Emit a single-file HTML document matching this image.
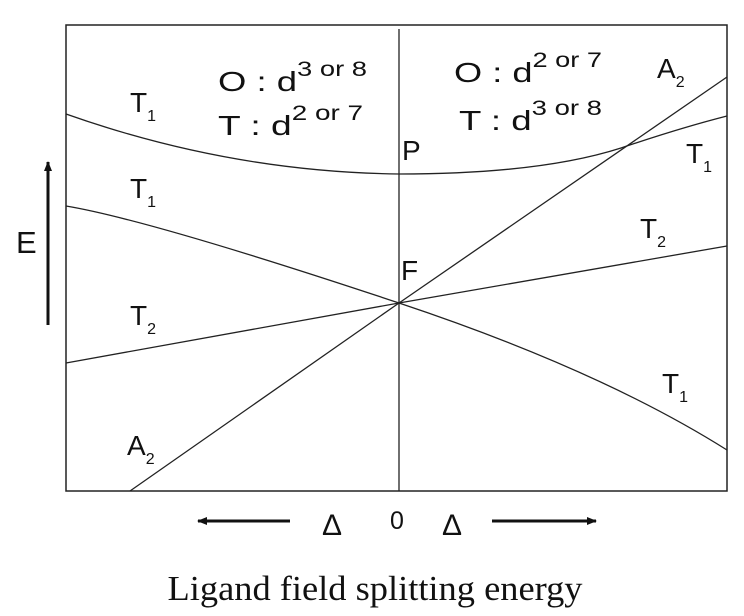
<!DOCTYPE html>
<html><head><meta charset="utf-8"><style>
html,body{margin:0;padding:0;background:#fff;}
svg{display:block;}
text{font-family:"Liberation Sans",Arial,sans-serif;fill:#111;}
</style></head><body>
<svg width="744" height="616" viewBox="0 0 744 616" xmlns="http://www.w3.org/2000/svg">
<defs>
<marker id="ah" markerWidth="10" markerHeight="8" refX="9" refY="4" orient="auto" markerUnits="userSpaceOnUse">
<path d="M0,0 L10,4 L0,8 Z" fill="#111"/></marker>
</defs>
<g stroke="#222" fill="none" stroke-width="1.3">
<rect x="66" y="25" width="661" height="466" stroke-width="1.5"/>
<line x1="399" y1="29" x2="399" y2="491"/>
<path d="M66,114 Q230,172 399,174 Q540,174 621,148 Q680,128 727,116"/>
<path d="M66,206 Q150,220 399,303"/>
<line x1="399" y1="303" x2="727" y2="77"/>
<line x1="399" y1="303" x2="727" y2="246"/>
<line x1="66" y1="363" x2="399" y2="303"/>
<line x1="130" y1="491" x2="399" y2="303"/>
<path d="M399,303 Q600,370 727,450"/>
</g>
<line x1="48" y1="325" x2="48" y2="162" stroke="#111" stroke-width="3" marker-end="url(#ah)"/>
<line x1="290" y1="521" x2="198" y2="521" stroke="#111" stroke-width="3" marker-end="url(#ah)"/>
<line x1="492" y1="521" x2="596" y2="521" stroke="#111" stroke-width="3" marker-end="url(#ah)"/>
<g font-size="28">
<text x="130" y="112">T<tspan font-size="16" dy="9">1</tspan></text>
<text x="218" y="91" textLength="149" lengthAdjust="spacingAndGlyphs">O : d<tspan font-size="21" dy="-15">3 or 8</tspan></text>
<text x="218" y="135" textLength="145" lengthAdjust="spacingAndGlyphs">T : d<tspan font-size="21" dy="-15">2 or 7</tspan></text>
<text x="454" y="82" textLength="148" lengthAdjust="spacingAndGlyphs">O : d<tspan font-size="21" dy="-15">2 or 7</tspan></text>
<text x="459" y="130" textLength="143" lengthAdjust="spacingAndGlyphs">T : d<tspan font-size="21" dy="-15">3 or 8</tspan></text>
<text x="657" y="78">A<tspan font-size="16" dy="9">2</tspan></text>
<text x="402" y="160">P</text>
<text x="686" y="163">T<tspan font-size="16" dy="9">1</tspan></text>
<text x="130" y="198">T<tspan font-size="16" dy="9">1</tspan></text>
<text x="16" y="253" font-size="31">E</text>
<text x="401" y="280">F</text>
<text x="640" y="238">T<tspan font-size="16" dy="9">2</tspan></text>
<text x="130" y="325">T<tspan font-size="16" dy="9">2</tspan></text>
<text x="662" y="393">T<tspan font-size="16" dy="9">1</tspan></text>
<text x="127" y="455">A<tspan font-size="16" dy="9">2</tspan></text>
<text x="322" y="535" font-size="30">Δ</text>
<text x="390" y="529" font-size="25">0</text>
<text x="442" y="535" font-size="30">Δ</text>
</g>
<text x="375" y="600" text-anchor="middle" font-size="35" textLength="415" lengthAdjust="spacingAndGlyphs" style="font-family:'Liberation Serif',serif">Ligand field splitting energy</text>
</svg>
</body></html>
